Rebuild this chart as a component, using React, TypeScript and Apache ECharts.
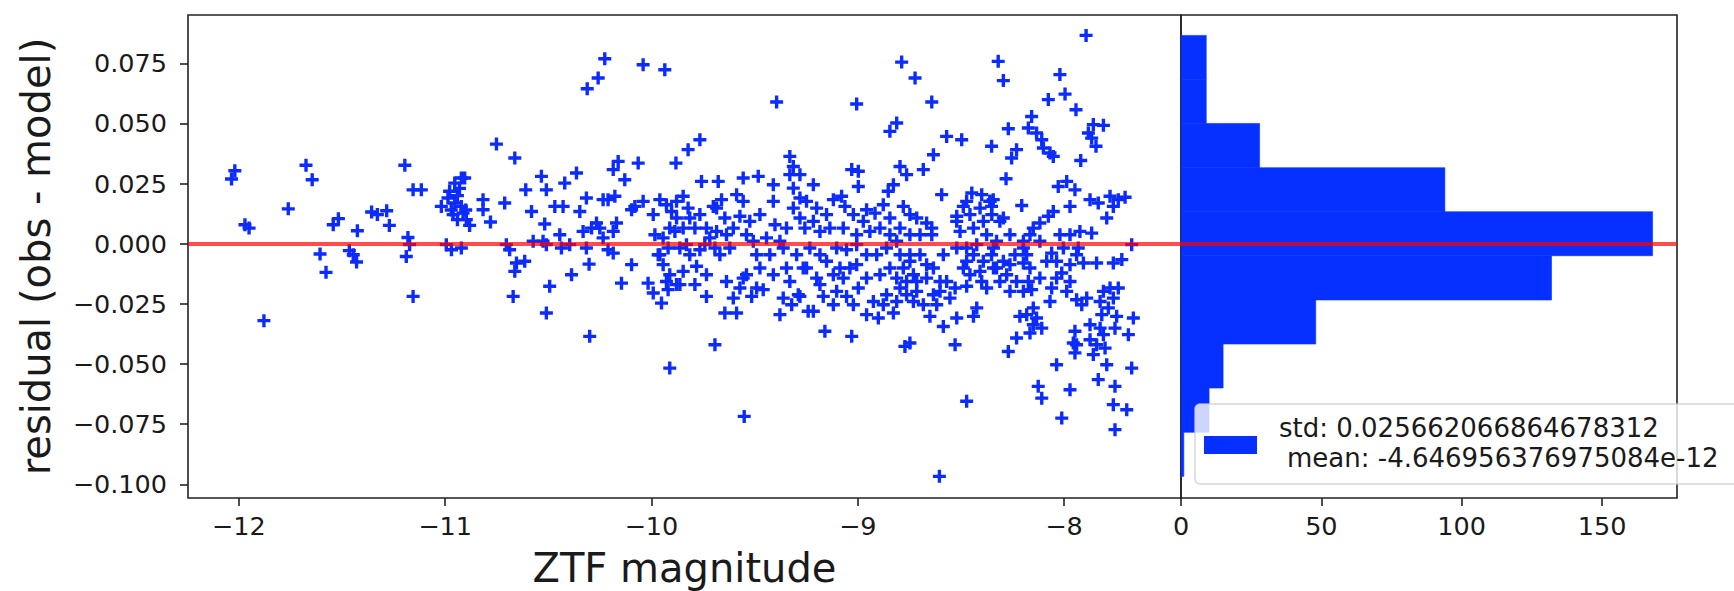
import React, { useEffect, useRef } from "react";
import * as echarts from "echarts";

// ---------- data ----------
// [ZTF magnitude, residual]
const scatterPoints: [number, number][] = [
  // -12.25 .. -11.2
  [-12.019, 0.0303], [-12.035, 0.0269], [-11.970, 0.0079], [-11.950, 0.0065], [-11.760, 0.0145],
  [-11.674, 0.0326], [-11.644, 0.0266], [-11.878, -0.0320], [-11.542, 0.0079], [-11.517, 0.0104],
  [-11.425, 0.0054], [-11.606, -0.0043], [-11.577, -0.0119], [-11.464, -0.0029], [-11.445, -0.0046],
  [-11.429, -0.0076], [-11.356, 0.0132], [-11.328, 0.0121], [-11.283, 0.0137], [-11.270, 0.0076],
  // -11.2 .. -10.2
  [-11.195, 0.0326], [-11.155, 0.0224], [-11.115, 0.0224], [-11.180, 0.0026], [-11.172, -0.0004],
  [-11.188, -0.0053], [-11.155, -0.0219], [-10.751, 0.0414], [-10.662, 0.0356],
  [-10.921, 0.0273], [-10.953, 0.0252], [-10.978, 0.0218], [-10.986, 0.0190], [-11.018, 0.0155],
  [-10.953, 0.0169], [-10.921, 0.0155], [-10.961, 0.0121], [-10.913, 0.0127], [-10.897, 0.0100],
  [-10.881, 0.0076], [-10.905, 0.0273], [-10.940, 0.0200], [-10.930, 0.0230], [-10.970, 0.0140],
  [-10.900, 0.0140], [-10.940, 0.0100],
  [-10.816, 0.0183], [-10.816, 0.0141], [-10.780, 0.0090], [-10.711, 0.0169],
  [-10.994, -0.0004], [-10.969, -0.0025], [-10.921, -0.0018],
  [-10.703, -0.0004], [-10.687, -0.0025], [-10.654, -0.0080], [-10.662, -0.0115], [-10.614, -0.0073],
  [-10.670, -0.0219],
  [-10.609, 0.0224], [-10.581, 0.0134], [-10.533, 0.0280], [-10.509, 0.0224], [-10.517, 0.0082],
  [-10.573, 0.0010], [-10.525, 0.0010], [-10.509, -0.0004],
  [-10.468, 0.0155], [-10.428, 0.0155], [-10.420, 0.0252], [-10.363, 0.0294], [-10.347, 0.0134],
  [-10.444, 0.0037], [-10.396, -0.0004], [-10.436, -0.0018],
  [-10.493, -0.0177], [-10.509, -0.0288], [-10.387, -0.0129], [-10.302, -0.0085], [-10.299, -0.0385],
  [-10.315, 0.0190], [-10.331, 0.0051], [-10.290, 0.0065], [-10.266, 0.0086], [-10.315, -0.0018],
  [-10.311, 0.0644], [-10.258, 0.0689], [-10.226, 0.0769],
  [-10.234, 0.0183], [-10.234, 0.0024], [-10.210, -0.0025],
  // -10.25 .. -9.25 sparse
  [-10.040, 0.0744], [-9.935, 0.0723], [-9.393, 0.0589], [-9.765, 0.0432], [-9.822, 0.0391],
  [-9.881, 0.0335], [-10.064, 0.0335], [-10.161, 0.0342], [-10.185, 0.0308], [-10.129, 0.0266],
  [-10.210, 0.0183], [-10.177, 0.0197], [-10.169, 0.0086], [-10.185, 0.0051], [-10.250, 0.0065],
  [-10.096, 0.0141], [-10.080, 0.0155], [-10.040, 0.0176], [-10.185, -0.0039], [-10.096, -0.0087],
  [-10.145, -0.0164], [-10.016, -0.0164], [-9.991, -0.0205], [-9.951, -0.0247], [-9.911, -0.0517],
  [-9.692, -0.0420], [-9.550, -0.0718], [-9.644, -0.0288], [-9.587, -0.0288], [-9.757, 0.0259],
  [-9.676, 0.0259], [-9.555, 0.0273], [-9.482, 0.0280], [-9.409, 0.0245], [-9.329, 0.0363],
  [-9.312, 0.0321], [-9.329, 0.0287],
  // -10.25 .. -9.25 dense
  [-9.959, 0.0183], [-9.927, 0.0162], [-9.902, 0.0134], [-9.846, 0.0197], [-9.822, 0.0148],
  [-9.878, 0.0107], [-9.911, 0.0065], [-9.846, 0.0065], [-9.789, 0.0065], [-9.983, 0.0037],
  [-9.919, -0.0018], [-9.862, -0.0018], [-9.830, -0.0004], [-9.959, -0.0046], [-9.943, -0.0087],
  [-9.911, -0.0129], [-9.862, -0.0170], [-9.781, -0.0094], [-9.789, -0.0170], [-9.733, -0.0219],
  [-9.717, 0.0024], [-9.684, 0.0051], [-9.700, 0.0155], [-9.660, 0.0183], [-9.644, 0.0107],
  [-9.692, -0.0018], [-9.636, 0.0037], [-9.587, 0.0204], [-9.555, 0.0176], [-9.571, 0.0114],
  [-9.539, 0.0037], [-9.506, 0.0010], [-9.442, 0.0024], [-9.401, 0.0079], [-9.377, 0.0010],
  [-9.426, -0.0046], [-9.361, -0.0018], [-9.312, 0.0231], [-9.280, 0.0190], [-9.280, 0.0107],
  [-9.256, 0.0065], [-9.296, -0.0046], [-9.264, -0.0101], [-9.329, -0.0157], [-9.288, -0.0212],
  [-9.361, -0.0226], [-9.377, -0.0295], [-9.320, -0.0254], [-9.240, -0.0281], [-9.539, -0.0129],
  [-9.571, -0.0184], [-9.490, -0.0184], [-9.458, -0.0191], [-9.636, -0.0157], [-9.514, -0.0219],
  [-9.555, -0.0143], [-9.878, -0.0170], [-9.919, -0.0191], [-9.967, -0.0046], [-9.668, -0.0046],
  [-9.765, -0.0025], [-9.741, -0.0004],
  [-9.991, 0.0121], [-9.943, 0.0024], [-9.886, 0.0051], [-9.814, 0.0107], [-9.765, 0.0121],
  [-9.733, 0.0065], [-9.814, -0.0046], [-9.846, -0.0115], [-9.927, -0.0157], [-9.733, -0.0129],
  [-9.620, -0.0018], [-9.603, 0.0065], [-9.523, 0.0093], [-9.490, -0.0046], [-9.474, -0.0101],
  [-9.409, -0.0129], [-9.345, -0.0101], [-9.345, 0.0065], [-9.312, 0.0148], [-9.409, 0.0176],
  [-9.474, 0.0121], [-9.603, -0.0226], [-9.684, 0.0148], [-9.878, 0.0176],
  // -9.3 .. -8.35 sparse
  [-8.787, 0.0755], [-8.722, 0.0689], [-9.005, 0.0581], [-8.641, 0.0589], [-8.811, 0.0502],
  [-8.844, 0.0467], [-8.569, 0.0446], [-8.496, 0.0432], [-8.633, 0.0370], [-8.682, 0.0308],
  [-8.795, 0.0321], [-8.763, 0.0287], [-8.827, 0.0245], [-8.852, 0.0218], [-9.029, 0.0308],
  [-8.997, 0.0301], [-8.997, 0.0238], [-9.215, 0.0245], [-9.280, 0.0287], [-8.593, 0.0204],
  [-8.447, 0.0211], [-8.399, 0.0204], [-8.359, 0.0176], [-8.488, 0.0155], [-8.520, 0.0114],
  // -9.3 .. -8.35 dense
  [-9.248, 0.0176], [-9.199, 0.0148], [-9.118, 0.0183], [-9.078, 0.0197], [-9.062, 0.0155],
  [-9.021, 0.0121], [-8.957, 0.0141], [-8.916, 0.0127], [-8.876, 0.0162], [-8.779, 0.0155],
  [-8.747, 0.0121], [-8.714, 0.0107], [-8.666, 0.0086], [-8.641, 0.0065], [-9.135, 0.0065],
  [-9.183, 0.0051], [-9.070, 0.0065], [-9.005, 0.0037], [-8.941, 0.0051], [-8.892, 0.0065],
  [-8.844, 0.0037], [-8.795, 0.0065], [-8.747, 0.0037], [-8.698, 0.0037], [-8.641, 0.0037],
  [-9.232, -0.0018], [-9.183, -0.0046], [-9.102, -0.0018], [-9.054, -0.0025], [-9.005, -0.0004],
  [-8.908, -0.0046], [-9.248, -0.0101], [-9.199, -0.0143], [-9.118, -0.0129], [-9.070, -0.0143],
  [-9.038, -0.0101], [-9.005, -0.0087], [-8.957, -0.0143], [-9.102, -0.0198], [-9.167, -0.0219],
  [-9.054, -0.0219], [-8.997, -0.0184], [-8.795, -0.0046], [-8.747, -0.0046], [-8.698, -0.0046],
  [-8.666, -0.0087], [-8.779, -0.0101], [-8.730, -0.0129], [-8.811, -0.0143], [-8.763, -0.0157],
  [-8.714, -0.0157], [-8.666, -0.0143], [-8.860, -0.0212], [-8.811, -0.0240], [-8.763, -0.0212],
  [-8.714, -0.0198], [-8.633, -0.0212], [-8.601, -0.0198], [-8.553, -0.0226], [-8.601, -0.0157],
  [-8.528, -0.0184], [-8.876, -0.0254], [-8.957, -0.0295], [-8.900, -0.0309], [-8.827, -0.0288],
  [-8.650, -0.0302], [-8.585, -0.0344], [-8.520, -0.0309], [-8.439, -0.0302], [-8.423, -0.0267],
  [-9.280, -0.0219], [-9.215, -0.0281], [-9.159, -0.0364], [-9.029, -0.0385], [-8.771, -0.0427],
  [-8.747, -0.0413], [-8.528, -0.0420], [-8.472, -0.0655], [-8.604, -0.0967], [-8.520, -0.0018],
  [-8.472, -0.0018], [-8.439, -0.0046], [-8.391, -0.0073], [-8.342, -0.0101], [-8.488, -0.0101],
  [-8.456, -0.0129], [-8.399, -0.0157], [-8.375, -0.0184], [-8.472, -0.0177], [-8.504, 0.0051],
  [-8.439, 0.0065], [-8.391, 0.0093], [-8.350, 0.0121], [-8.456, 0.0121], [-8.520, 0.0093],
  [-9.151, 0.0121], [-9.215, 0.0093], [-8.973, 0.0093], [-8.844, 0.0107], [-8.811, 0.0010],
  [-8.860, -0.0018], [-8.957, -0.0046], [-9.151, -0.0073], [-9.086, -0.0101], [-9.183, -0.0170],
  [-9.118, -0.0254], [-9.021, -0.0254], [-8.924, -0.0240], [-8.795, -0.0184], [-8.730, -0.0240],
  [-8.682, -0.0254], [-8.617, -0.0254], [-8.569, -0.0157], [-8.633, -0.0101], [-8.585, -0.0046],
  [-8.747, -0.0073], [-8.844, -0.0101], [-8.892, -0.0129], [-8.472, 0.0176], [-8.407, 0.0148],
  [-8.375, 0.0037], [-8.423, -0.0004], [-8.342, -0.0018], [-8.472, -0.0073], [-8.407, -0.0115],
  // -8.36 .. -7.43 sparse
  [-7.893, 0.0866], [-8.319, 0.0758], [-8.294, 0.0678], [-8.020, 0.0703], [-7.995, 0.0622],
  [-8.076, 0.0599], [-7.942, 0.0557], [-7.858, 0.0495], [-7.809, 0.0492], [-7.882, 0.0460],
  [-7.866, 0.0439], [-7.845, 0.0405], [-8.270, 0.0478], [-8.157, 0.0529], [-8.173, 0.0481],
  [-8.133, 0.0460], [-8.108, 0.0432], [-8.100, 0.0398], [-8.068, 0.0377], [-8.052, 0.0363],
  [-8.230, 0.0391], [-8.254, 0.0356], [-8.351, 0.0405], [-7.919, 0.0346], [-8.281, 0.0270],
  [-7.987, 0.0259], [-8.028, 0.0238], [-7.947, 0.0224], [-7.971, 0.0155], [-8.205, 0.0159],
  [-8.294, 0.0107], [-8.351, 0.0155], [-8.343, 0.0183], [-7.874, 0.0183], [-7.834, 0.0169],
  [-7.777, 0.0197], [-7.761, 0.0155], [-7.704, 0.0193], [-7.737, 0.0183], [-7.793, 0.0107],
  [-7.866, 0.0044], [-7.672, -0.0004], [-8.052, 0.0134], [-8.076, 0.0114], [-8.117, 0.0086],
  [-8.149, 0.0065], [-8.165, 0.0037], [-8.197, 0.0010],
  // -8.36 .. -7.43 dense
  [-8.020, 0.0037], [-7.971, 0.0037], [-7.931, -0.0018], [-8.003, -0.0018], [-8.060, -0.0039],
  [-8.036, -0.0073], [-8.327, 0.0010], [-8.294, -0.0073], [-8.327, -0.0101], [-8.262, -0.0087],
  [-8.197, -0.0080], [-8.165, -0.0101], [-8.173, -0.0157], [-8.197, -0.0198], [-8.157, -0.0191],
  [-8.011, -0.0122], [-7.971, -0.0087], [-7.939, -0.0046], [-7.906, -0.0080], [-7.842, -0.0080],
  [-7.761, -0.0080], [-7.720, -0.0066], [-8.060, -0.0184], [-8.068, -0.0240], [-7.987, -0.0198],
  [-7.939, -0.0233], [-7.914, -0.0254], [-7.890, -0.0226], [-7.809, -0.0198], [-7.737, -0.0184],
  [-7.761, -0.0226], [-7.785, -0.0267], [-7.817, -0.0295], [-7.745, -0.0302], [-7.753, -0.0351],
  [-7.664, -0.0309], [-7.688, -0.0378], [-8.214, -0.0302], [-8.181, -0.0295], [-8.149, -0.0337],
  [-8.108, -0.0351], [-8.165, -0.0371], [-8.230, -0.0392], [-8.270, -0.0448], [-7.947, -0.0364],
  [-7.955, -0.0413], [-7.947, -0.0454], [-7.874, -0.0399], [-7.842, -0.0420], [-7.858, -0.0461],
  [-7.809, -0.0378], [-7.801, -0.0434], [-7.793, -0.0503], [-7.834, -0.0565], [-8.036, -0.0503],
  [-8.125, -0.0593], [-8.108, -0.0642], [-7.971, -0.0607], [-8.011, -0.0725], [-7.753, -0.0593],
  [-7.761, -0.0669], [-7.696, -0.0690], [-7.753, -0.0773], [-7.672, -0.0517],
  [-8.359, 0.0176], [-8.311, 0.0093], [-8.262, 0.0037], [-8.197, -0.0018], [-8.181, -0.0046],
  [-8.238, -0.0046], [-8.351, -0.0046], [-8.278, -0.0129], [-8.311, -0.0157],
  [-8.117, 0.0010], [-8.084, -0.0073], [-8.036, -0.0143], [-7.971, -0.0157], [-8.117, -0.0143],
  [-8.230, -0.0157], [-8.262, -0.0198], [-8.149, -0.0267], [-7.825, -0.0240], [-7.777, -0.0184],
  [-7.874, -0.0337], [-7.825, -0.0351], [-7.939, -0.0420], [-8.133, -0.0309], [-7.923, 0.0051],
];

// histogram of residuals (horizontal): bin edges and counts
const binEdges: number[] = [-0.0967, -0.0784, -0.0600, -0.0417, -0.0234, -0.0050, 0.0133, 0.0316, 0.0500, 0.0683, 0.0866];
const binCounts: number[] = [1, 10, 15, 48, 132, 168, 94, 28, 9, 9];

const xTicks: number[] = [-12, -11, -10, -9, -8];
const yTicks: number[] = [-0.1, -0.075, -0.05, -0.025, 0, 0.025, 0.05, 0.075];
const histTicks: number[] = [0, 50, 100, 150];

const xName = "ZTF magnitude";
const yName = "residual (obs - model)";
const legendStd = "std: 0.025662066864678312";
const legendMean = "mean: -4.646956376975084e-12";
const residualLine = 0;

// ---------- styles ----------
const FONT = "DejaVu Sans";
const TEXT = "#1a1a1a";
const FRAME = "#222222";
const MARKER = "#0b2bff";
const HIST = "#0530ff";
const RED = "rgba(255,0,0,0.7)";
const PLUS = "path://M37,0H63V37H100V63H63V100H37V63H0V37H37Z";

const minus = (s: string) => s.replace("-", "\u2212");

export default function App() {
  const ref = useRef<HTMLDivElement>(null);

  useEffect(() => {
    if (!ref.current) return;
    const chart = echarts.init(ref.current, null, { renderer: "svg" });

    const histData = binCounts.map((c, i) => [binEdges[i], binEdges[i + 1], c]);

    const tickLabel = { fontSize: 25.5, color: TEXT, fontFamily: FONT };
    const markLine = {
      silent: true,
      symbol: ["none", "none"],
      label: { show: false },
      lineStyle: { color: RED, width: 4, type: "solid" },
      emphasis: { disabled: true },
      data: [{ yAxis: residualLine }],
    };

    const option: any = {
      animation: false,
      backgroundColor: "#ffffff",
      textStyle: { fontFamily: FONT },
      grid: [
        {
          left: 188, top: 15, width: 993, height: 483,
          show: true, borderColor: FRAME, borderWidth: 1.6, backgroundColor: "transparent",
          containLabel: false, outerBoundsMode: "none",
        },
        {
          left: 1181, top: 15, width: 496, height: 483,
          show: true, borderColor: FRAME, borderWidth: 1.6, backgroundColor: "transparent",
          containLabel: false, outerBoundsMode: "none",
        },
      ],
      xAxis: [
        {
          type: "value", gridIndex: 0, min: -12.246, max: -7.433,
          name: xName, nameLocation: "middle", nameGap: 50, nameMoveOverlap: false,
          nameTextStyle: { fontSize: 40, color: TEXT, fontFamily: FONT },
          axisLine: { show: false, onZero: false },
          axisTick: { show: true, customValues: xTicks, length: 8, lineStyle: { color: FRAME, width: 1.6 } },
          axisLabel: { ...tickLabel, margin: 15, customValues: xTicks, formatter: (v: number) => minus(String(v)) },
          splitLine: { show: false },
        },
        {
          type: "value", gridIndex: 1, min: 0, max: 176.7,
          axisLine: { show: false, onZero: false },
          axisTick: { show: true, customValues: histTicks, length: 8, lineStyle: { color: FRAME, width: 1.6 } },
          axisLabel: { ...tickLabel, margin: 15, customValues: histTicks, formatter: (v: number) => String(v) },
          splitLine: { show: false },
        },
      ],
      yAxis: [
        {
          type: "value", gridIndex: 0, min: -0.10571, max: 0.09507,
          name: yName, nameLocation: "middle", nameGap: 132, nameMoveOverlap: false,
          nameTextStyle: { fontSize: 40, color: TEXT, fontFamily: FONT },
          axisLine: { show: false, onZero: false },
          axisTick: { show: true, customValues: yTicks, length: 8, lineStyle: { color: FRAME, width: 1.6 } },
          axisLabel: { ...tickLabel, margin: 21, customValues: yTicks, formatter: (v: number) => minus(v.toFixed(3)) },
          splitLine: { show: false },
        },
        {
          type: "value", gridIndex: 1, min: -0.10571, max: 0.09507,
          axisLine: { show: false, onZero: false },
          axisTick: { show: false },
          axisLabel: { show: false },
          splitLine: { show: false },
        },
      ],
      series: [
        {
          type: "scatter",
          xAxisIndex: 0, yAxisIndex: 0,
          data: scatterPoints,
          symbol: PLUS,
          symbolSize: 13,
          itemStyle: { color: MARKER, opacity: 1 },
          emphasis: { disabled: true },
          markLine,
        },
        {
          type: "custom",
          xAxisIndex: 1, yAxisIndex: 1,
          data: histData,
          encode: { x: 2, y: [0, 1] },
          renderItem: (_params: any, api: any) => {
            const lo = api.value(0);
            const hi = api.value(1);
            const c = api.value(2);
            const p0 = api.coord([0, hi]);
            const p1 = api.coord([c, lo]);
            return {
              type: "rect",
              shape: { x: p0[0], y: p0[1], width: p1[0] - p0[0], height: p1[1] - p0[1] },
              style: { fill: HIST, stroke: HIST, lineWidth: 0.6 },
            };
          },
          markLine,
        },
      ],
      graphic: [
        {
          type: "rect", z: 100,
          shape: { x: 1195, y: 404, width: 570, height: 80, r: 5 },
          style: { fill: "rgba(255,255,255,0.8)", stroke: "rgba(204,204,204,0.8)", lineWidth: 1.5 },
        },
        {
          type: "rect", z: 101,
          shape: { x: 1204, y: 436, width: 53, height: 18 },
          style: { fill: HIST },
        },
        {
          type: "text", z: 101, x: 1279, y: 427.5,
          style: { text: legendStd, fontSize: 26, fontFamily: FONT, fill: TEXT, verticalAlign: "middle", align: "left" },
        },
        {
          type: "text", z: 101, x: 1287, y: 458,
          style: { text: legendMean, fontSize: 26, fontFamily: FONT, fill: TEXT, verticalAlign: "middle", align: "left" },
        },
      ],
    };

    chart.setOption(option);
    return () => chart.dispose();
  }, []);

  return (
    <div
      ref={ref}
      style={{ position: "fixed", left: 0, top: 0, width: 1734, height: 591, background: "#ffffff" }}
    />
  );
}
